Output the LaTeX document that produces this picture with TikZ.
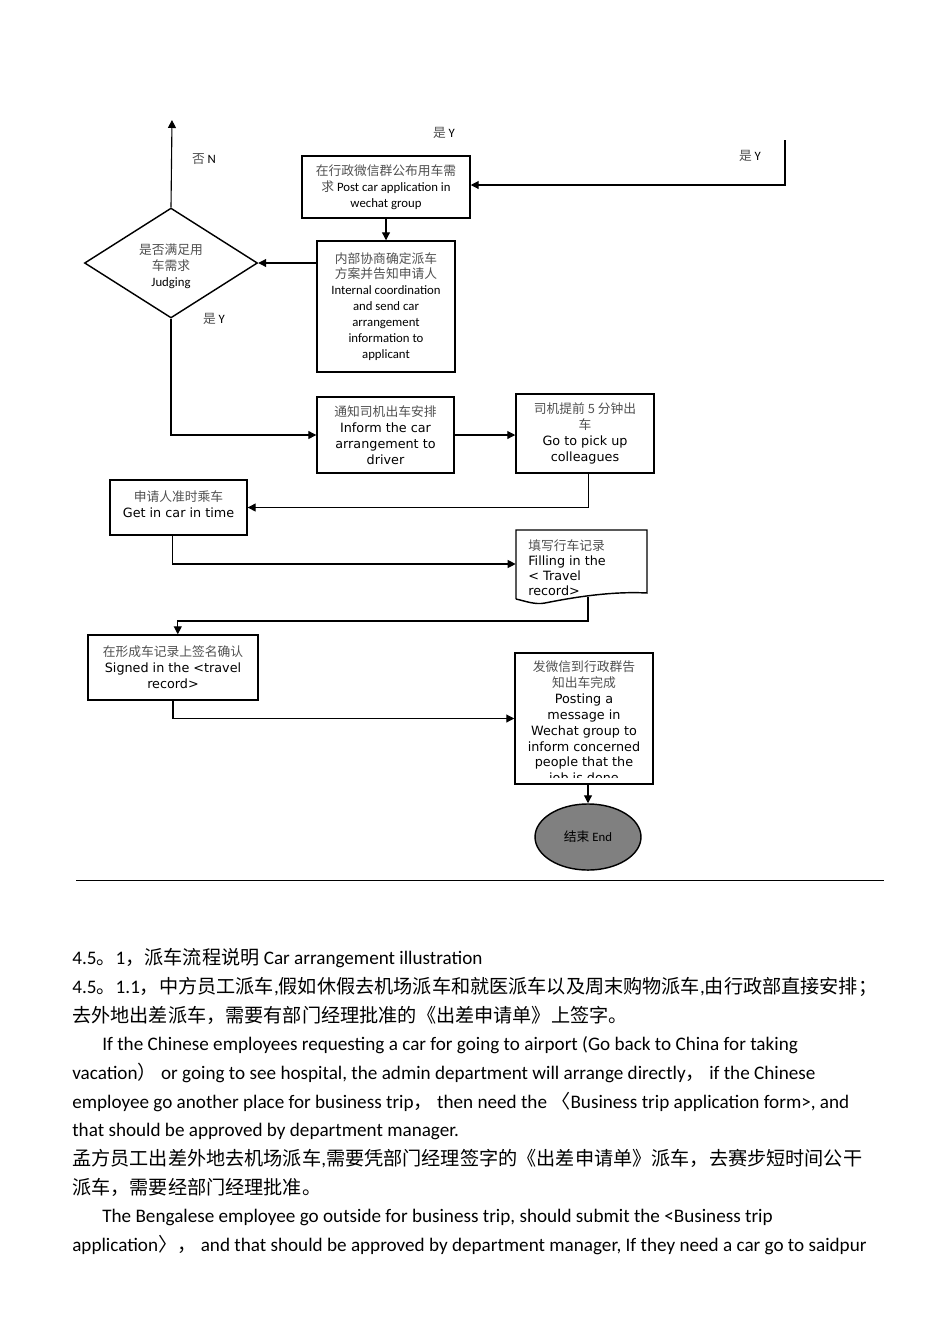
\documentclass[tikz,border=0pt]{standalone}
\usepackage{fontspec}
\setmainfont{Carlito}
\newfontfamily\cjk{Noto Sans CJK SC}
\newfontfamily\dvs{DejaVu Sans}
\usetikzlibrary{shapes.geometric,arrows.meta}
\definecolor{zhgray}{RGB}{80,80,80}
\definecolor{endgray}{RGB}{128,128,128}
\newcommand\zh[1]{{\cjk #1}}
\newcommand\zg[1]{{\cjk\color{zhgray}#1}}
\tikzset{
  box/.style={draw, line width=0.9pt, rectangle, inner sep=1pt, align=center, font=\fontsize{8}{10}\selectfont},
  dbox/.style={box, font=\dvs\fontsize{8}{10}\selectfont},
  btxt/.style={align=center, inner sep=0, font=\dvs\fontsize{8}{10}\selectfont},
  conn/.style={line width=0.7pt},
  arr/.style={conn, -{Triangle[length=5pt,width=5pt]}},
  lbl/.style={font=\fontsize{8}{10}\selectfont, inner sep=0},
  body/.style={anchor=base west, inner sep=0, font=\fontsize{12}{14}\selectfont},
}
\begin{document}
\begin{tikzpicture}[x=0.6266pt,y=-0.6266pt]
\useasboundingbox (0,0) rectangle (950,1344);

% nodes
\node[box, minimum width=105.3pt, minimum height=38.85pt] (b1) at (386,187)
  {\zg{在行政微信群公布用车需}\\\zg{求} Post car application in\\wechat group};
\node[box, minimum width=86.5pt, minimum height=82.1pt] (b2) at (386,306.5)
  {\zg{内部协商确定派车}\\\zg{方案并告知申请人}\\Internal coordination\\and send car\\arrangement\\information to\\applicant};
\node[draw, diamond, line width=0.9pt, minimum width=108.4pt, minimum height=68.9pt, inner sep=0] (dia) at (171,263) {};
\node[align=center, inner sep=0, font=\fontsize{8}{10}\selectfont] (diat) at (171,266)
  {\zg{是否满足用}\\\zg{车需求}\\Judging};
\node[dbox, minimum width=85.8pt, minimum height=47.6pt] (b3) at (385.5,435)
  {\zg{通知司机出车安排}\\Inform the car\\arrangement to\\driver};
\node[dbox, minimum width=86.5pt, minimum height=49.5pt] (b4) at (585,433.5)
  {\zg{司机提前 5 分钟出}\\\zg{车}\\Go to pick up\\colleagues};
\node[dbox, minimum width=85.8pt, minimum height=34.5pt] (b5) at (178.5,507.5) {};
\node[btxt] (b5t) at (178.5,504) {\zg{申请人准时乘车}\\Get in car in time};
\node[minimum width=82.1pt, minimum height=42.6pt, inner sep=0] (doc) at (581.5,564) {};
\draw[line width=0.9pt] (516,599) -- (516,530) -- (647,530) -- (647,593)
  .. controls (610,591) and (570,598) .. (545,603)
  .. controls (535,605) and (525,601) .. (516,599);
\node[anchor=west, align=left, inner sep=0, font=\dvs\fontsize{8}{9.4}\selectfont] (doct) at (528,568)
  {\zg{填写行车记录}\\Filling in the\\< Travel\\record>};
\node[dbox, minimum width=106.5pt, minimum height=40.7pt] (b6) at (173,667.5)
  {\zg{在形成车记录上签名确认}\\Signed in the <travel\\record>};
\node[dbox, minimum width=86.5pt, minimum height=82.1pt] (b7) at (584,718.5) {};
\begin{scope}
  \clip ([yshift=-1pt]b7.north west) rectangle ([yshift=4.4pt]b7.south east);
  \node[btxt] (b7t) at (584,723)
    {\zg{发微信到行政群告}\\\zg{知出车完成}\\Posting a\\message in\\Wechat group to\\inform concerned\\people that the\\job is done};
\end{scope}
\node[draw, ellipse, fill=endgray, line width=0.9pt, minimum width=66.4pt, minimum height=41.4pt, inner sep=0, font=\fontsize{8}{10}\selectfont] (endn) at (588,837)
  {\zh{结束} End};

% labels
\node[lbl] (l1) at (204,159) {\zg{否} N};
\node[lbl] (l2) at (444,133) {\zg{是} Y};
\node[lbl] (l3) at (750,156) {\zg{是} Y};
\node[lbl] (l4) at (214,319) {\zg{是} Y};

% connectors
\coordinate (ntop) at (172,120);
\coordinate (ytop) at (785,140);
\coordinate (ybend) at (785,185);
\coordinate (dbot) at (588,597);
\coordinate (dturn) at (588,621);
\draw[arr] (dia.north) -- (ntop);
\draw[arr] (ytop) -- (ybend) -- (ybend -| b1.east);
\draw[arr] (b1.south) -- (b2.north);
\draw[arr] (dia.east -| b2.west) -- (dia.east);
\draw[arr] (dia.south) |- (b3.west);
\draw[arr] (b3.east) -- (b3.east -| b4.west);
\draw[arr] ([xshift=2pt]b4.south) |- (b5.east);
\draw[arr] ([xshift=-4pt]b5.south) |- (doc.west);
\draw[arr] (dbot) -- (dturn) -| ([xshift=3pt]b6.north);
\draw[arr] (b6.south) |- (b7.west);
\draw[arr] (b7.south -| endn.north) -- (endn.north);

% rule
\draw[line width=0.6pt] (76,880) -- (884,880);

% body text
\node[body] (t1) at (72,964) {4.5\zh{。}1\zh{，派车流程说明} Car arrangement illustration};
\node[body] (t2) at (72,993) {4.5\zh{。}1.1\zh{，中方员工派车},\zh{假如休假去机场派车和就医派车以及周末购物派车},\zh{由行政部直接安排；}};
\node[body] (t3) at (72,1022) {\zh{去外地出差派车，需要有部门经理批准的《出差申请单》上签字。}};
\node[body] (t4) at (102,1050) {If the Chinese employees requesting a car for going to airport (Go back to China for taking};
\node[body] (t5) at (72,1079) {vacation\zh{）} or going to see hospital, the admin department will arrange directly\zh{，} if the Chinese};
\node[body] (t6) at (72,1108) {employee go another place for business trip\zh{，} then need the \zh{〈}Business trip application form>, and};
\node[body] (t7) at (72,1136) {that should be approved by department manager.};
\node[body] (t8) at (72,1165) {\zh{孟方员工出差外地去机场派车},\zh{需要凭部门经理签字的《出差申请单》派车，去赛步短时间公干}};
\node[body] (t9) at (72,1194) {\zh{派车，需要经部门经理批准。}};
\node[body] (t10) at (102,1222) {The Bengalese employee go outside for business trip, should submit the <Business trip};
\node[body] (t11) at (72,1251) {application\zh{〉}\zh{，} and that should be approved by department manager, If they need a car go to saidpur};
\end{tikzpicture}
\end{document}
